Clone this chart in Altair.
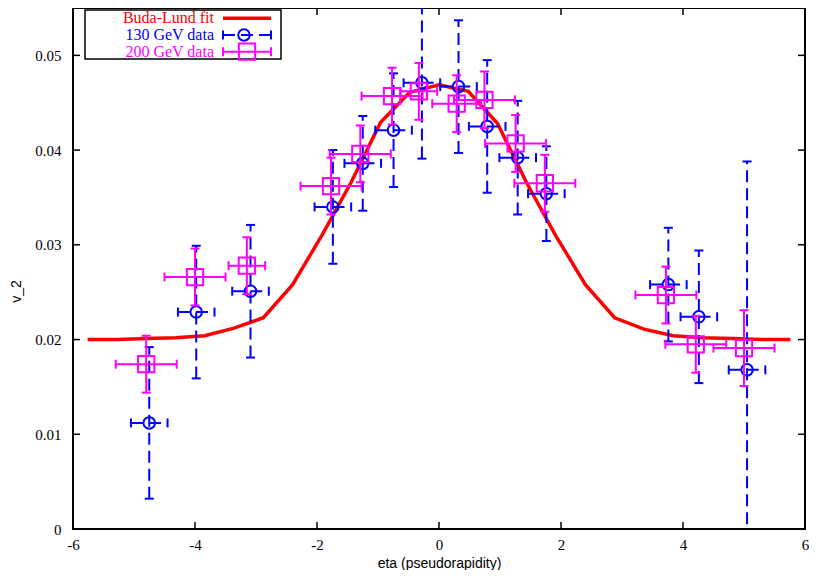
import altair as alt
import pandas as pd

# ---------------- data ----------------
# 130 GeV data (blue circles)
eta_130 = [-4.75, -3.98, -3.09, -1.74, -1.25, -0.745, -0.28, 0.32, 0.79, 1.29, 1.76, 3.76, 4.26, 5.05]
v2_130 = [0.0112, 0.0229, 0.0251, 0.0340, 0.0386, 0.0421, 0.0471, 0.0467, 0.0425, 0.0392, 0.0354, 0.0258, 0.0224, 0.0168]
dv2_130 = [0.008, 0.007, 0.007, 0.006, 0.005, 0.006, 0.008, 0.007, 0.007, 0.006, 0.005, 0.006, 0.007, 0.022]
deta_130 = [0.3, 0.3, 0.3, 0.3, 0.3, 0.3, 0.3, 0.3, 0.3, 0.3, 0.3, 0.3, 0.3, 0.3]

# 200 GeV data (magenta squares)
eta_200 = [-4.80, -4.00, -3.15, -1.77, -1.29, -0.77, -0.33, 0.29, 0.745, 1.256, 1.735, 3.72, 4.21, 5.00]
v2_200 = [0.0174, 0.0266, 0.0278, 0.0362, 0.0396, 0.0457, 0.0462, 0.0449, 0.0453, 0.0407, 0.0365, 0.0247, 0.0195, 0.0191]
dv2_200 = [0.003, 0.003, 0.003, 0.003, 0.003, 0.003, 0.003, 0.003, 0.003, 0.003, 0.003, 0.003, 0.003, 0.004]
deta_200 = [0.5, 0.5, 0.3, 0.5, 0.5, 0.5, 0.3, 0.4, 0.5, 0.5, 0.5, 0.5, 0.5, 0.5]

# Buda-Lund fit curve
eta_fit = [-5.76, -5.28, -4.80, -4.32, -3.84, -3.36, -2.88, -2.40, -1.92, -1.44, -0.96, -0.48, 0.0,
           0.48, 0.96, 1.44, 1.92, 2.40, 2.88, 3.36, 3.84, 4.32, 4.80, 5.28, 5.76]
v2_fit = [0.0200, 0.0200, 0.0201, 0.0202, 0.0204, 0.0212, 0.0223, 0.0258, 0.0310, 0.0366, 0.0429, 0.0461, 0.0469,
          0.0462, 0.0428, 0.0365, 0.0309, 0.0258, 0.0223, 0.0211, 0.0204, 0.0202, 0.0201, 0.0200, 0.0200]

x_ticks = [-6, -4, -2, 0, 2, 4, 6]
y_ticks = [0, 0.01, 0.02, 0.03, 0.04, 0.05]

leg_labels = ["Buda-Lund fit", "130 GeV data", "200 GeV data"]

# ---------------- styling ----------------
W, H = 732, 521
PAD = {"left": 65, "top": 0, "right": 4, "bottom": 41}
RED, BLUE, MAG = "#ff0000", "#0000ff", "#ff00ff"
SERIF = "Liberation Serif"
SANS = "Liberation Sans"

xs = alt.Scale(domain=[-6, 6], nice=False, zero=False)
ys = alt.Scale(domain=[0, 0.055], nice=False, zero=False)

x_axis = alt.Axis(values=x_ticks, domain=False, ticks=False, grid=False,
                  labelFont=SERIF, labelFontSize=15, labelColor="black", labelPadding=8,
                  labelOverlap=False, labelFlush=False, labelExpr="'' + datum.value",
                  title="eta (pseudorapidity)", titleFont=SANS, titleFontSize=14,
                  titleFontWeight="normal", titleColor="black", titleY=34, titleBaseline="middle")
y_axis = alt.Axis(values=y_ticks, domain=False, ticks=False, grid=False,
                  labelFont=SERIF, labelFontSize=15, labelColor="black", labelPadding=12,
                  labelOverlap=False, labelFlush=False, labelExpr="'' + datum.value",
                  title="v_2", titleFont=SANS, titleFontSize=14, titleFontWeight="normal",
                  titleColor="black", titleAngle=270, titleX=-57, titleY=283,
                  titleAlign="center", titleBaseline="middle")


def X(f):
    return alt.X(f, type="quantitative", scale=xs, axis=x_axis)


def Y(f):
    return alt.Y(f, type="quantitative", scale=ys, axis=y_axis)


def make_df(eta, v, dv, de):
    d = pd.DataFrame({"eta": eta, "v2": v, "dv": dv, "de": de})
    d["lo"] = d.v2 - d.dv
    d["hi"] = d.v2 + d.dv
    d["xlo"] = d.eta - d.de
    d["xhi"] = d.eta + d.de
    return d


d130 = make_df(eta_130, v2_130, dv2_130, deta_130)
d200 = make_df(eta_200, v2_200, dv2_200, deta_200)
dfit = pd.DataFrame({"eta": eta_fit, "v2": v2_fit})

fit = alt.Chart(dfit).mark_line(color=RED, strokeWidth=3.5, clip=True).encode(
    x=X("eta"), y=Y("v2"))


def series(d, color, dash, shape, size):
    rule_kw = dict(color=color, strokeWidth=2, clip=True)
    if dash:
        rule_kw["strokeDash"] = dash
    base = alt.Chart(d)
    vbar = base.mark_rule(**rule_kw).encode(x=X("eta"), y=Y("lo"), y2=alt.Y2("hi"))
    hbar = base.mark_rule(**rule_kw).encode(x=X("xlo"), x2=alt.X2("xhi"), y=Y("v2"))
    vcap = base.transform_fold(["lo", "hi"], as_=["k", "c"]).mark_tick(
        orient="horizontal", size=9, thickness=2, color=color, clip=True, opacity=1
    ).encode(x=X("eta"), y=Y("c"))
    hcap = base.transform_fold(["xlo", "xhi"], as_=["k", "c"]).mark_tick(
        orient="vertical", size=9, thickness=2, color=color, clip=True, opacity=1
    ).encode(x=X("c"), y=Y("v2"))
    pts = base.mark_point(shape=shape, filled=False, size=size, strokeWidth=2,
                          color=color, opacity=1).encode(x=X("eta"), y=Y("v2"))
    return [vbar, hbar, vcap, hcap, pts]


blue = series(d130, BLUE, [12, 6], "circle", 133)
pink = series(d200, MAG, None, "square", 265)

# inward tick marks on all four sides
xt = pd.DataFrame({"t": x_ticks})
yt = pd.DataFrame({"t": y_ticks})
TK = 7
tick_layers = [
    alt.Chart(xt).mark_rule(color="black", strokeWidth=1.5).encode(x=X("t"), y=alt.value(H), y2=alt.value(H - TK)),
    alt.Chart(xt).mark_rule(color="black", strokeWidth=1.5).encode(x=X("t"), y=alt.value(0), y2=alt.value(TK)),
    alt.Chart(yt).mark_rule(color="black", strokeWidth=1.5).encode(y=Y("t"), x=alt.value(0), x2=alt.value(TK)),
    alt.Chart(yt).mark_rule(color="black", strokeWidth=1.5).encode(y=Y("t"), x=alt.value(W), x2=alt.value(W - TK)),
]

# legend (top-left box)
one = pd.DataFrame({"k": [0]})
LX0, LX1 = 12, 208
LY0, LY1 = 2, 51
TX = 141
SX0, SX1 = 150, 198
rows = [10.3, 27, 43.7]
leg = [
    alt.Chart(one).mark_rect(fill="white", stroke="black", strokeWidth=1.5).encode(
        x=alt.value(LX0), x2=alt.value(LX1), y=alt.value(LY0), y2=alt.value(LY1)),
]
for lab, col, ry in zip(leg_labels, [RED, BLUE, MAG], rows):
    leg.append(alt.Chart(one).mark_text(align="right", baseline="middle", font=SERIF, fontSize=16,
                                        color=col, text=lab).encode(x=alt.value(TX), y=alt.value(ry)))
# red sample
leg.append(alt.Chart(one).mark_rule(color=RED, strokeWidth=3.5).encode(
    x=alt.value(SX0), x2=alt.value(SX1), y=alt.value(rows[0])))
# blue sample
leg.append(alt.Chart(one).mark_rule(color=BLUE, strokeWidth=2, strokeDash=[12, 6]).encode(
    x=alt.value(SX0), x2=alt.value(SX1), y=alt.value(rows[1])))
for sx in (SX0, SX1):
    leg.append(alt.Chart(one).mark_rule(color=BLUE, strokeWidth=2).encode(
        x=alt.value(sx), y=alt.value(rows[1] - 4.5), y2=alt.value(rows[1] + 4.5)))
leg.append(alt.Chart(one).mark_point(shape="circle", filled=False, size=133, strokeWidth=2,
                                     color=BLUE, opacity=1).encode(x=alt.value(171), y=alt.value(rows[1])))
# magenta sample
leg.append(alt.Chart(one).mark_rule(color=MAG, strokeWidth=2).encode(
    x=alt.value(SX0), x2=alt.value(SX1), y=alt.value(rows[2])))
for sx in (SX0, SX1):
    leg.append(alt.Chart(one).mark_rule(color=MAG, strokeWidth=2).encode(
        x=alt.value(sx), y=alt.value(rows[2] - 4.5), y2=alt.value(rows[2] + 4.5)))
leg.append(alt.Chart(one).mark_point(shape="square", filled=False, size=265, strokeWidth=2,
                                     color=MAG, opacity=1).encode(x=alt.value(174), y=alt.value(rows[2])))

chart = alt.layer(fit, *blue, *pink, *tick_layers, *leg).properties(
    width=W, height=H,
    padding=PAD,
    autosize=alt.AutoSizeParams(type="none"),
    background="white",
).configure_view(stroke="black", strokeWidth=2).configure_axis(
    labelFont=SERIF, labelFontSize=15, titleFont=SANS, titleFontSize=14, titleFontWeight="normal"
)

chart.save("out.html", embed_options={"renderer": "svg", "actions": False})
